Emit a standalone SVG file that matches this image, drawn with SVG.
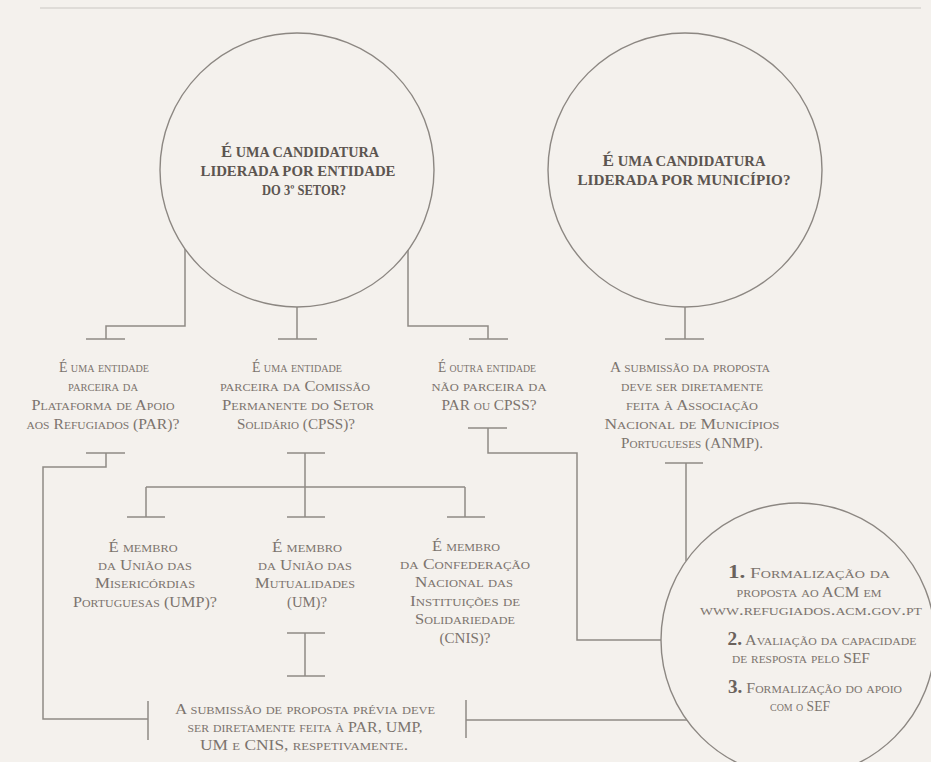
<svg xmlns="http://www.w3.org/2000/svg" width="931" height="762" viewBox="0 0 931 762">
<style>
.bg{fill:#f4f1ed}
.rule{stroke:#d9d5d0;stroke-width:1.5;fill:none}
.circ{fill:none;stroke:#8c8782;stroke-width:1.4}
.ln{fill:none;stroke:#8f8a85;stroke-width:1.5}
.h{font-family:"Liberation Serif","Times New Roman",serif;font-weight:bold;font-size:14.5px;fill:#5c5550;text-anchor:middle}
.big{font-size:17px}
.t{font-family:"Liberation Serif","Times New Roman",serif;font-variant:small-caps;font-size:15px;fill:#7c746e;text-anchor:middle}
.n{font-size:18px;font-weight:bold;fill:#6a625c}
</style>
<rect class="bg" x="0" y="0" width="931" height="762"/>
<path class="rule" d="M40,8 H921"/>

<g id="connectors">
  <path class="ln" d="M185,249 V326 H106 V339"/>
  <path class="ln" d="M86,339 H125"/>
  <path class="ln" d="M297,307 V339"/>
  <path class="ln" d="M278,339 H317"/>
  <path class="ln" d="M408,250 V326 H488 V339"/>
  <path class="ln" d="M469,339 H508"/>
  <path class="ln" d="M685,307 V339"/>
  <path class="ln" d="M665,339 H704"/>
  <path class="ln" d="M86,453 H125"/>
  <path class="ln" d="M106,453 V467 H43 V719 H148"/>
  <path class="ln" d="M148,701 V740"/>
  <path class="ln" d="M287,453 H325"/>
  <path class="ln" d="M305,453 V517"/>
  <path class="ln" d="M146,487 H465"/>
  <path class="ln" d="M146,487 V517"/>
  <path class="ln" d="M465,487 V517"/>
  <path class="ln" d="M127,517 H165"/>
  <path class="ln" d="M287,517 H325"/>
  <path class="ln" d="M447,517 H485"/>
  <path class="ln" d="M468,428 H507"/>
  <path class="ln" d="M488,428 V453 H577 V640 H661"/>
  <path class="ln" d="M665,463 H703"/>
  <path class="ln" d="M686,463 V561"/>
  <path class="ln" d="M287,633 H325"/>
  <path class="ln" d="M305,633 V676"/>
  <path class="ln" d="M287,676 H325"/>
  <path class="ln" d="M466,700 V738"/>
  <path class="ln" d="M466,720 H687"/>
</g>

<g id="q-third-sector">
  <circle class="circ" cx="297" cy="170" r="137"/>
  <text class="h" x="300" y="157" textLength="158" lengthAdjust="spacingAndGlyphs"><tspan class="big">É</tspan> UMA CANDIDATURA</text>
  <text class="h" x="298" y="176" textLength="195" lengthAdjust="spacingAndGlyphs">LIDERADA POR ENTIDADE</text>
  <text class="h" x="304" y="195" textLength="84" lengthAdjust="spacingAndGlyphs">DO 3º SETOR?</text>
</g>

<g id="q-municipio">
  <circle class="circ" cx="685" cy="170" r="137"/>
  <text class="h" x="684" y="166" textLength="163" lengthAdjust="spacingAndGlyphs"><tspan class="big">É</tspan> UMA CANDIDATURA</text>
  <text class="h" x="684" y="185" textLength="213" lengthAdjust="spacingAndGlyphs">LIDERADA POR MUNICÍPIO?</text>
</g>

<g id="q-par">
  <text class="t" x="104" y="372" textLength="90" lengthAdjust="spacingAndGlyphs">É uma entidade</text>
  <text class="t" x="103" y="391" textLength="70" lengthAdjust="spacingAndGlyphs">parceira da</text>
  <text class="t" x="103" y="410" textLength="143" lengthAdjust="spacingAndGlyphs">Plataforma de Apoio</text>
  <text class="t" x="103" y="429" textLength="153" lengthAdjust="spacingAndGlyphs">aos Refugiados (PAR)?</text>
</g>

<g id="q-cpss">
  <text class="t" x="297" y="372" textLength="90" lengthAdjust="spacingAndGlyphs">É uma entidade</text>
  <text class="t" x="295" y="391" textLength="150" lengthAdjust="spacingAndGlyphs">parceira da Comissão</text>
  <text class="t" x="298" y="410" textLength="152" lengthAdjust="spacingAndGlyphs">Permanente do Setor</text>
  <text class="t" x="296" y="429" textLength="118" lengthAdjust="spacingAndGlyphs">Solidário (CPSS)?</text>
</g>

<g id="q-outra">
  <text class="t" x="487" y="372" textLength="98" lengthAdjust="spacingAndGlyphs">É outra entidade</text>
  <text class="t" x="489" y="391" textLength="115" lengthAdjust="spacingAndGlyphs">não parceira da</text>
  <text class="t" x="489" y="410" textLength="95" lengthAdjust="spacingAndGlyphs">PAR ou CPSS?</text>
</g>

<g id="anmp">
  <text class="t" x="690" y="372" textLength="160" lengthAdjust="spacingAndGlyphs">A submissão da proposta</text>
  <text class="t" x="692" y="391" textLength="142" lengthAdjust="spacingAndGlyphs">deve ser diretamente</text>
  <text class="t" x="692" y="410" textLength="132" lengthAdjust="spacingAndGlyphs">feita à Associação</text>
  <text class="t" x="692" y="429" textLength="175" lengthAdjust="spacingAndGlyphs">Nacional de Municípios</text>
  <text class="t" x="692" y="448" textLength="142" lengthAdjust="spacingAndGlyphs">Portugueses (ANMP).</text>
</g>

<g id="q-ump">
  <text class="t" x="143" y="552" textLength="69" lengthAdjust="spacingAndGlyphs">É membro</text>
  <text class="t" x="145" y="570" textLength="94" lengthAdjust="spacingAndGlyphs">da União das</text>
  <text class="t" x="145" y="588" textLength="100" lengthAdjust="spacingAndGlyphs">Misericórdias</text>
  <text class="t" x="145" y="607" textLength="144" lengthAdjust="spacingAndGlyphs">Portuguesas (UMP)?</text>
</g>

<g id="q-um">
  <text class="t" x="307" y="552" textLength="70" lengthAdjust="spacingAndGlyphs">É membro</text>
  <text class="t" x="305" y="570" textLength="94" lengthAdjust="spacingAndGlyphs">da União das</text>
  <text class="t" x="305" y="588" textLength="100" lengthAdjust="spacingAndGlyphs">Mutualidades</text>
  <text class="t" x="307" y="607" textLength="40" lengthAdjust="spacingAndGlyphs">(UM)?</text>
</g>

<g id="q-cnis">
  <text class="t" x="466" y="551" textLength="68" lengthAdjust="spacingAndGlyphs">É membro</text>
  <text class="t" x="465" y="569" textLength="130" lengthAdjust="spacingAndGlyphs">da Confederação</text>
  <text class="t" x="464" y="587" textLength="98" lengthAdjust="spacingAndGlyphs">Nacional das</text>
  <text class="t" x="465" y="606" textLength="110" lengthAdjust="spacingAndGlyphs">Instituições de</text>
  <text class="t" x="465" y="624" textLength="100" lengthAdjust="spacingAndGlyphs">Solidariedade</text>
  <text class="t" x="465" y="643" textLength="51" lengthAdjust="spacingAndGlyphs">(CNIS)?</text>
</g>

<g id="submissao-previa">
  <text class="t" x="305" y="714" textLength="260" lengthAdjust="spacingAndGlyphs">A submissão de proposta prévia deve</text>
  <text class="t" x="305" y="732" textLength="235" lengthAdjust="spacingAndGlyphs">ser diretamente feita à PAR, UMP,</text>
  <text class="t" x="304" y="750" textLength="208" lengthAdjust="spacingAndGlyphs">UM e CNIS, respetivamente.</text>
</g>

<g id="passos">
  <circle class="circ" cx="798" cy="640" r="137"/>
  <text class="t" x="809" y="578" textLength="162" lengthAdjust="spacingAndGlyphs"><tspan class="n">1.</tspan> Formalização da</text>
  <text class="t" x="809" y="597" textLength="145" lengthAdjust="spacingAndGlyphs">proposta ao ACM em</text>
  <text class="t" x="811" y="615" textLength="222" lengthAdjust="spacingAndGlyphs">www.refugiados.acm.gov.pt</text>
  <text class="t" x="822" y="645" textLength="189" lengthAdjust="spacingAndGlyphs"><tspan class="n">2.</tspan> Avaliação da capacidade</text>
  <text class="t" x="801" y="663" textLength="138" lengthAdjust="spacingAndGlyphs">de resposta pelo SEF</text>
  <text class="t" x="815" y="693" textLength="174" lengthAdjust="spacingAndGlyphs"><tspan class="n">3.</tspan> Formalização do apoio</text>
  <text class="t" x="800" y="711" textLength="60" lengthAdjust="spacingAndGlyphs">com o SEF</text>
</g>
</svg>
